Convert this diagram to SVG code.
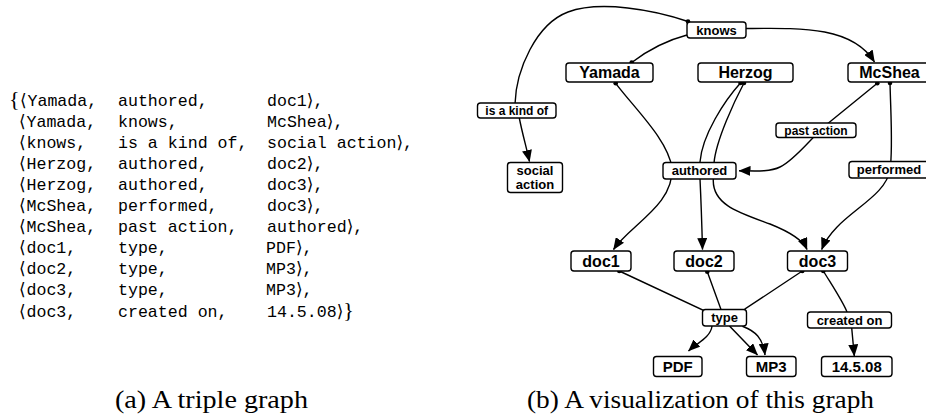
<svg xmlns="http://www.w3.org/2000/svg" width="926" height="416" viewBox="0 0 926 416">
<defs>
<marker id="arr" markerUnits="userSpaceOnUse" markerWidth="12" markerHeight="10" viewBox="0 0 12 10" refX="11.5" refY="5" orient="auto"><path d="M0,0 L12,5 L0,10 z" fill="#000"/></marker>
<style>
.t{font-family:"Liberation Mono","DejaVu Sans Mono",monospace;font-size:16.6px;fill:#000}
.br{font-family:"DejaVu Sans","DejaVu Serif",sans-serif;font-size:17px}
.cb{font-family:"Liberation Serif","DejaVu Serif",serif;font-size:22px}
.cap{font-family:"Liberation Serif","DejaVu Serif",serif;font-size:25px;fill:#000}
.box{fill:#fff;stroke:#000;stroke-width:1.4}
.n{font-family:"Liberation Sans",Arial,sans-serif;font-weight:bold;text-anchor:middle;fill:#000}
.big{font-size:16px}
.med{font-size:15px}
.sm{font-size:13px}
.xs{font-size:12px}
.e{fill:none;stroke:#000;stroke-width:1.4}
.a{marker-end:url(#arr)}
.dot{fill:#000}
</style>
</defs>
<rect width="926" height="416" fill="#fff"/>

<g id="triples">
<text class="t" y="105.5"><tspan class="cb" x="9">{</tspan><tspan class="br" x="20">⟨</tspan><tspan x="27.5">Yamada,</tspan><tspan x="118">authored,</tspan><tspan x="267">doc1</tspan><tspan class="br">⟩</tspan><tspan>,</tspan></text>
<text class="t" y="126.6"><tspan class="br" x="19">⟨</tspan><tspan x="26.5">Yamada,</tspan><tspan x="118">knows,</tspan><tspan x="267">McShea</tspan><tspan class="br">⟩</tspan><tspan>,</tspan></text>
<text class="t" y="147.7"><tspan class="br" x="19">⟨</tspan><tspan x="26.5">knows,</tspan><tspan x="118">is a kind of,</tspan><tspan x="267">social action</tspan><tspan class="br">⟩</tspan><tspan>,</tspan></text>
<text class="t" y="168.8"><tspan class="br" x="19">⟨</tspan><tspan x="26.5">Herzog,</tspan><tspan x="118">authored,</tspan><tspan x="267">doc2</tspan><tspan class="br">⟩</tspan><tspan>,</tspan></text>
<text class="t" y="189.9"><tspan class="br" x="19">⟨</tspan><tspan x="26.5">Herzog,</tspan><tspan x="118">authored,</tspan><tspan x="267">doc3</tspan><tspan class="br">⟩</tspan><tspan>,</tspan></text>
<text class="t" y="211"><tspan class="br" x="19">⟨</tspan><tspan x="26.5">McShea,</tspan><tspan x="118">performed,</tspan><tspan x="267">doc3</tspan><tspan class="br">⟩</tspan><tspan>,</tspan></text>
<text class="t" y="232.1"><tspan class="br" x="19">⟨</tspan><tspan x="26.5">McShea,</tspan><tspan x="118">past action,</tspan><tspan x="267">authored</tspan><tspan class="br">⟩</tspan><tspan>,</tspan></text>
<text class="t" y="253.2"><tspan class="br" x="19">⟨</tspan><tspan x="26.5">doc1,</tspan><tspan x="118">type,</tspan><tspan x="266">PDF</tspan><tspan class="br">⟩</tspan><tspan>,</tspan></text>
<text class="t" y="274.3"><tspan class="br" x="19">⟨</tspan><tspan x="26.5">doc2,</tspan><tspan x="118">type,</tspan><tspan x="266">MP3</tspan><tspan class="br">⟩</tspan><tspan>,</tspan></text>
<text class="t" y="295.4"><tspan class="br" x="19">⟨</tspan><tspan x="26.5">doc3,</tspan><tspan x="118">type,</tspan><tspan x="266">MP3</tspan><tspan class="br">⟩</tspan><tspan>,</tspan></text>
<text class="t" y="316.5"><tspan class="br" x="19">⟨</tspan><tspan x="26.5">doc3,</tspan><tspan x="118">created on,</tspan><tspan x="267">14.5.08</tspan><tspan class="br">⟩</tspan><tspan class="cb">}</tspan></text>
</g>

<g id="captions">
<text class="cap" x="115" y="408" textLength="193" lengthAdjust="spacingAndGlyphs">(a) A triple graph</text>
<text class="cap" x="527" y="408" textLength="347" lengthAdjust="spacingAndGlyphs">(b) A visualization of this graph</text>
</g>

<g id="connectors">
<path class="e" d="M631.7,62.5 C648,50 668,40 687,35"/>
<path class="e a" d="M746,28.5 C800,28 852,26 874.5,62"/>
<path class="e" d="M688,21.5 C655,10 600,0 568,12 C536,24 516,70 515,104"/>
<path class="e a" d="M519.3,118 C522,132 526,146 529.5,161.5"/>
<path class="e a" d="M615.7,83.3 C636,110 668,140 672,168 C674,205 630,225 613.5,249.5"/>
<path class="e a" d="M740.5,83 C725,100 702,135 700,162 L700,179 C701,200 702,230 702.5,249.5"/>
<path class="e a" d="M744,83 C735,100 716,140 714,163 L713.3,179 C712,205 740,213 770,224 C790,232 803,240 807,249.5"/>
<path class="e a" d="M890,83 C891,120 893,150 890,170 C885,200 835,215 821.7,249.5"/>
<path class="e a" d="M877.3,83.3 L826,125 C812,137 795,160 780,167 C770,172 755,171 739,170.7"/>
<path class="e a" d="M619.3,271 L705,311 L712,326.5 C710,338 697,343 688.5,351"/>
<path class="e a" d="M707.3,271.7 L721,309.5 L730,326.5 L757.5,355"/>
<path class="e a" d="M802.3,271 L745,309 L743,326.5 C755,331 763,338 765,355"/>
<path class="e a" d="M823.3,271 C835,290 843,302 847,312 L851.7,328 L854.3,356"/>
<circle class="dot" cx="631.7" cy="62.5" r="2.3"/>
<circle class="dot" cx="688" cy="21.5" r="2.3"/>
<circle class="dot" cx="615.7" cy="83.3" r="2.3"/>
<circle class="dot" cx="740.5" cy="83" r="2.3"/>
<circle class="dot" cx="744" cy="83" r="2.3"/>
<circle class="dot" cx="890" cy="83" r="2.3"/>
<circle class="dot" cx="877.3" cy="83.3" r="2.3"/>
<circle class="dot" cx="619.3" cy="271" r="2.3"/>
<circle class="dot" cx="707.3" cy="271.7" r="2.3"/>
<circle class="dot" cx="802.3" cy="271" r="2.3"/>
<circle class="dot" cx="823.3" cy="271" r="2.3"/>
</g>

<g id="knows"><rect class="box" x="687" y="22" width="59" height="16" rx="3"/><text class="n sm" x="716.5" y="34.5">knows</text></g>
<g id="yamada"><rect class="box" x="566" y="63" width="87" height="19" rx="3"/><text class="n big" x="609.5" y="78.3">Yamada</text></g>
<g id="herzog"><rect class="box" x="698" y="63" width="95" height="19" rx="3"/><text class="n big" x="745.5" y="78.3">Herzog</text></g>
<g id="mcshea"><rect class="box" x="848" y="63" width="84" height="19" rx="3"/><text class="n big" x="889.5" y="78.3">McShea</text></g>
<g id="is-a-kind-of"><rect class="box" x="477.5" y="103" width="78.5" height="15" rx="3"/><text class="n xs" x="516.7" y="114.8">is a kind of</text></g>
<g id="social-action"><rect class="box" x="507.5" y="162.5" width="55" height="30" rx="3"/><text class="n sm" x="535" y="174.7">social</text><text class="n sm" x="535" y="189.2">action</text></g>
<g id="authored"><rect class="box" x="663" y="162.5" width="73" height="16.5" rx="3"/><text class="n sm" x="699.5" y="175.4">authored</text></g>
<g id="past-action"><rect class="box" x="776" y="123" width="80" height="14.5" rx="3"/><text class="n xs" x="816" y="134.6">past action</text></g>
<g id="performed"><rect class="box" x="849" y="161.5" width="80" height="16.5" rx="3"/><text class="n sm" x="889" y="174.4">performed</text></g>
<g id="doc1"><rect class="box" x="571" y="251" width="60" height="20" rx="3"/><text class="n big" x="601" y="266.8">doc1</text></g>
<g id="doc2"><rect class="box" x="674" y="251" width="60" height="20" rx="3"/><text class="n big" x="704" y="266.8">doc2</text></g>
<g id="doc3"><rect class="box" x="787.5" y="251" width="60" height="20" rx="3"/><text class="n big" x="817.5" y="266.8">doc3</text></g>
<g id="type"><rect class="box" x="702.5" y="309.5" width="44" height="16.5" rx="3"/><text class="n sm" x="724.5" y="322.4">type</text></g>
<g id="created-on"><rect class="box" x="807.5" y="312" width="84" height="16" rx="3"/><text class="n sm" x="849.5" y="324.7">created on</text></g>
<g id="pdf"><rect class="box" x="653.5" y="356.5" width="48.5" height="20" rx="3"/><text class="n med" x="677.7" y="371.9">PDF</text></g>
<g id="mp3"><rect class="box" x="746.5" y="356.5" width="49.5" height="20" rx="3"/><text class="n med" x="771.2" y="371.9">MP3</text></g>
<g id="date"><rect class="box" x="821.5" y="356.5" width="70.5" height="20" rx="3"/><text class="n med" x="856.7" y="371.9">14.5.08</text></g>
</svg>
